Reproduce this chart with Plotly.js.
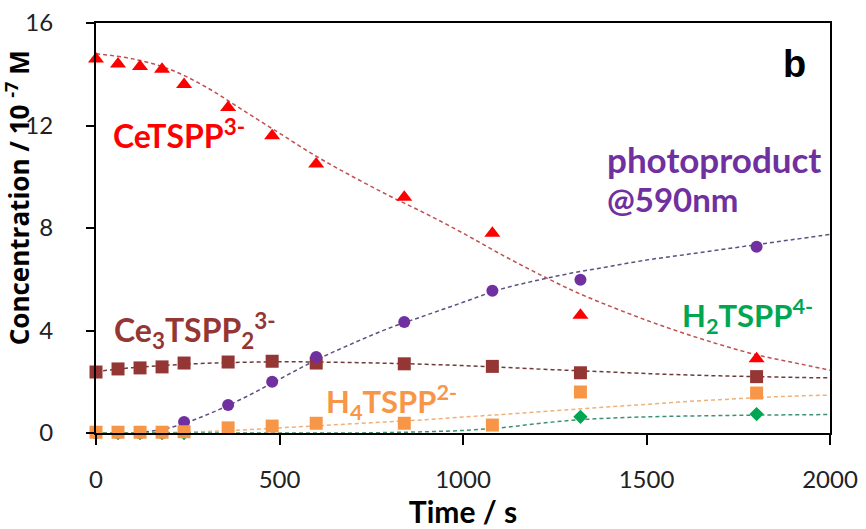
<!DOCTYPE html>
<html><head><meta charset="utf-8">
<script src="https://cdn.plot.ly/plotly-3.0.1.min.js"></script>
<style>html,body{margin:0;padding:0;background:#fff}#c{width:866px;height:529px}</style>
</head><body><div id="c"></div>
<script>
// measured data points
const time = [0, 60, 120, 180, 240, 360, 480, 600, 840, 1080, 1320, 1800];
const ceTSPP = [14.6, 14.4, 14.3, 14.2, 13.6, 12.7, 11.6, 10.5, 9.2, 7.8, 4.6, 2.9];
const ce3TSPP2 = [2.38, 2.5, 2.54, 2.58, 2.73, 2.77, 2.8, 2.73, 2.7, 2.6, 2.35, 2.2];
const photoproduct = [0, 0, 0, 0, 0.43, 1.09, 2.0, 2.97, 4.33, 5.55, 5.98, 7.27];
const h4TSPP = [0.03, 0.03, 0.03, 0.03, 0.05, 0.2, 0.27, 0.38, 0.38, 0.31, 1.6, 1.56];
const h2TSPP = [0, 0, 0, 0, 0, -0.1, -0.12, -0.12, -0.12, -0.12, 0.63, 0.74];
// fitted curves
const fitTime = [0,100,200,300,400,500,600,700,800,900,1000,1100,1200,1300,1400,1500,1600,1700,1800,1900,2000];
const ceTSPPFit = [14.8,14.6,14.2,13.5,12.6,11.7,10.8,10.0,9.25,8.55,7.8,7.0,6.25,5.55,4.95,4.4,3.9,3.45,3.05,2.75,2.45];
const photoFit = [0,0,0.2,0.7,1.35,2.1,2.85,3.5,4.1,4.6,5.1,5.6,5.95,6.25,6.5,6.75,6.95,7.15,7.35,7.55,7.75];
const ce3Fit = [2.4,2.55,2.65,2.72,2.76,2.78,2.77,2.75,2.72,2.68,2.63,2.57,2.5,2.44,2.38,2.32,2.27,2.23,2.2,2.17,2.15];
const h4Fit = [0,0,0.02,0.06,0.12,0.2,0.28,0.36,0.44,0.52,0.62,0.72,0.82,0.92,1.02,1.12,1.22,1.3,1.38,1.44,1.48];
const h2Fit = [0,0,0,0,0,0,0,0,0.02,0.05,0.1,0.2,0.36,0.5,0.58,0.63,0.66,0.68,0.7,0.71,0.72];
const xTicks = [0, 500, 1000, 1500, 2000];
const yTicks = [0, 4, 8, 12, 16];

const RED = '#FF0000', BROWN = '#943634', PURPLE = '#7030A0', ORANGE = '#F79646', GREEN = '#00A651';
function fit(y, color) {
  return {x: fitTime, y: y, mode: 'lines', line: {color: color, width: 1.5, dash: '4px,3px', shape: 'spline'}, hoverinfo: 'skip', cliponaxis: false};
}
function pts(y, color, sym, size) {
  return {x: time, y: y, mode: 'markers', marker: {color: color, symbol: sym, size: size}, cliponaxis: false};
}
const data = [
  fit(ceTSPPFit, '#C05050'),
  fit(ce3Fit, '#6E3A3A'),
  fit(photoFit, '#5E5080'),
  fit(h4Fit, '#F0B078'),
  fit(h2Fit, '#3E9272'),
  pts(ceTSPP, RED, 'triangle-up', 14),
  pts(ce3TSPP2, BROWN, 'square', 13),
  pts(photoproduct, PURPLE, 'circle', 12),
  pts(h2TSPP, GREEN, 'diamond', 11),
  pts(h4TSPP, ORANGE, 'square', 13)
];
const F = 'Lato, "Open Sans", sans-serif';
function lab(text, x, y, color, size) {
  return {text: text, x: x, y: y, xref: 'paper', yref: 'paper', xanchor: 'left', yanchor: 'middle', showarrow: false,
    font: {family: F, size: size, color: color}};
}
const layout = {
  width: 866, height: 529,
  margin: {l: 96, r: 36, t: 23, b: 96},
  paper_bgcolor: '#fff', plot_bgcolor: '#fff',
  showlegend: false,
  font: {family: F, color: '#222'},
  xaxis: {range: [0, 2000], tickvals: xTicks, ticks: 'outside', ticklen: 10, tickwidth: 2, tickcolor: '#000',
    showline: true, linecolor: '#000', linewidth: 2, mirror: true, showgrid: false, zeroline: false,
    tickfont: {size: 24, family: F, color: '#222'}, ticklabelstandoff: 14,
    title: {text: '<b>Time / s</b>', font: {size: 30, family: F, color: '#000'}, standoff: 10}},
  yaxis: {range: [0, 16], tickvals: yTicks, ticks: 'outside', ticklen: 8, tickwidth: 2, tickcolor: '#000',
    showline: true, linecolor: '#000', linewidth: 2, mirror: true, showgrid: false, zeroline: false,
    tickfont: {size: 24, family: F, color: '#222'}, ticklabelstandoff: 28},
  annotations: [
    {text: '<b>Concentration / 10 <sup>-7</sup> M</b>', textangle: -90, x: -0.106, y: 0.573, xref: 'paper', yref: 'paper',
      xanchor: 'center', yanchor: 'middle', showarrow: false, font: {family: '"Open Sans", Lato, sans-serif', size: 26, color: '#000'}},
    {text: '<b>b</b>', x: 0.951, y: 0.9, xref: 'paper', yref: 'paper', xanchor: 'center', yanchor: 'middle', showarrow: false,
      font: {family: '"Liberation Sans", Arial, sans-serif', size: 38, color: '#000'}},
    lab('<b>CeTSPP<sup>3-</sup></b>', 0.020, 0.73, RED, 32),
    lab('<b>Ce<sub>3</sub>TSPP<sub>2</sub><sup>3-</sup></b>', 0.022, 0.25, BROWN, 32),
    lab('<b>H<sub>4</sub>TSPP<sup>2-</sup></b>', 0.31, 0.075, ORANGE, 31),
    lab('<b>H<sub>2</sub>TSPP<sup>4-</sup></b>', 0.795, 0.285, GREEN, 31),
    lab('<b>photoproduct</b>', 0.693, 0.668, PURPLE, 35),
    lab('<b>@590nm</b>', 0.693, 0.57, PURPLE, 33)
  ]
};
Plotly.newPlot('c', data, layout, {displayModeBar: false, staticPlot: true});
</script></body></html>
